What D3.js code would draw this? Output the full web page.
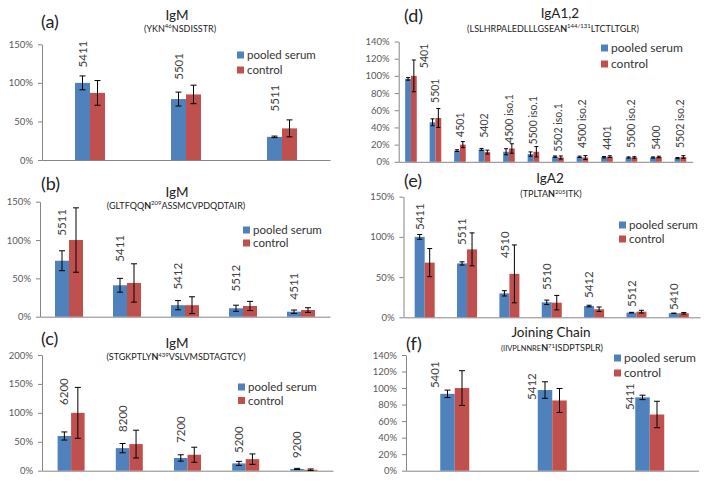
<!DOCTYPE html>
<html><head><meta charset="utf-8">
<script src="https://cdn.jsdelivr.net/npm/d3@7/dist/d3.min.js"></script>
<style>
body{margin:0;background:#fff;}
svg text{font-family:Lato,"Liberation Sans",sans-serif;}
</style></head>
<body><svg id="c" width="704" height="482"></svg>
<script>
// ---------------- DATA ----------------
const seriesNames = ["pooled serum", "control"];

// (a) IgM (YKN46NSDISSTR)
const catsA = ["5411", "5501", "5511"];
const pooledA = [100, 79, 30];
const pooledErrA = [9, 9, 1];
const controlA = [87, 85, 41];
const controlErrA = [16, 12, 11];
const ticksA = [0, 50, 100, 150];

// (b) IgM (GLTFQQN209ASSMCVPDQDTAIR)
const catsB = ["5511", "5411", "5412", "5512", "4511"];
const pooledB = [73, 41, 15, 11, 6.5];
const pooledErrB = [13, 9, 6, 4, 2.2];
const controlB = [100, 44, 15, 14, 8.7];
const controlErrB = [42, 25, 11, 6, 3];
const ticksB = [0, 50, 100, 150];

// (c) IgM (STGKPTLYN439VSLVMSDTAGTCY)
const catsC = ["6200", "8200", "7200", "5200", "9200"];
const pooledC = [60, 39, 22, 12.6, 3];
const pooledErrC = [7, 8, 5.5, 3.5, 1];
const controlC = [100, 46, 27.6, 20, 1.7];
const controlErrC = [44, 24, 13, 9, 1.3];
const ticksC = [0, 50, 100, 150, 200];

// (d) IgA1,2 (LSLHRPALEDLLLGSEAN144/131LTCTLTGLR)
const catsD = ["5401", "5501", "4501", "5402", "4500 iso.1", "5500 iso.1", "5502 iso.1", "4500 iso.2", "4401", "5500 iso.2", "5400", "5502 iso.2"];
const pooledD = [96.5, 46, 13, 14.4, 11.7, 9, 6, 5.8, 5.3, 5, 5, 4.3];
const pooledErrD = [1.5, 4, 1, 1.2, 3.5, 2.5, 0.8, 0.8, 0.8, 0.7, 0.7, 0.7];
const controlD = [100, 51, 20, 11.3, 15.5, 11.7, 5, 5, 6, 5, 5.6, 5.6];
const controlErrD = [18.5, 11, 3.5, 2.3, 5.5, 6, 1.8, 2.2, 1, 0.9, 0.9, 1.5];
const ticksD = [0, 20, 40, 60, 80, 100, 120, 140];

// (e) IgA2 (TPLTAN205ITK)
const catsE = ["5411", "5511", "4510", "5510", "5412", "5512", "5410"];
const pooledE = [100, 67, 29.8, 18.6, 14, 5.8, 5];
const pooledErrE = [3, 2, 3.3, 2.8, 1, 0.4, 0.2];
const controlE = [68, 84.5, 54, 18.2, 10, 7, 5];
const controlErrE = [17.5, 20.5, 36, 9, 2.8, 1.7, 1];
const ticksE = [0, 50, 100, 150];

// (f) Joining Chain (IIVPLNNREN71ISDPTSPLR)
const catsF = ["5401", "5412", "5411"];
const pooledF = [93, 97.6, 88.7];
const pooledErrF = [4.5, 10, 2.7];
const controlF = [100, 85, 68];
const controlErrF = [21, 14.5, 16];
const ticksF = [0, 20, 40, 60, 80, 100, 120, 140];

// ---------------- LAYOUT ----------------
const colors = ["#4F81BD", "#C0504D"];
const panels = [
  {cats: catsA, vals: [pooledA, controlA], errs: [pooledErrA, controlErrA], ticks: ticksA, yMax: 150,
   x0: 42, x1: 330, yTop: 44.3, yBot: 160, barW: 15, capW: 6, lblFont: 11.5, lblRef: "blue", lblDx: 0,
   lblAt: [120, 104, 63], nudge: {},
   tag: {t: "(a)", x: 41, y: 28}, title: {t: "IgM", x: 177, y: 20},
   sub: {x: 180, y: 31.5, parts: [["(YKN", 0], ["46", 2], ["NSDISSTR)", 0]]},
   leg: {x: 237, y: 55, dy: 15, fs: 11.5}},
  {cats: catsB, vals: [pooledB, controlB], errs: [pooledErrB, controlErrB], ticks: ticksB, yMax: 150,
   x0: 40, x1: 330, yTop: 201.7, yBot: 316.7, barW: 14, capW: 6, lblFont: 11.5, lblRef: "blue", lblDx: 0,
   lblAt: [105.6, 71.8, 35.5, 32.9, 22.5], nudge: {},
   tag: {t: "(b)", x: 41, y: 190}, title: {t: "IgM", x: 177, y: 197},
   sub: {x: 176, y: 208.5, parts: [["(GLTFQQ", 0], ["N", 1], ["209", 2], ["ASSMCVPDQDTAIR)", 0]]},
   leg: {x: 243, y: 230, dy: 13, fs: 11.5}},
  {cats: catsC, vals: [pooledC, controlC], errs: [pooledErrC, controlErrC], ticks: ticksC, yMax: 200,
   x0: 42, x1: 333, yTop: 355, yBot: 470.7, barW: 13.5, capW: 6, lblFont: 11.5, lblRef: "blue", lblDx: 0,
   lblAt: [113.7, 67, 48, 30.6, 22], nudge: {},
   tag: {t: "(c)", x: 41, y: 345}, title: {t: "IgM", x: 177, y: 348},
   sub: {x: 176, y: 360, parts: [["(STGKPTLY", 0], ["N", 1], ["439", 2], ["VSLVMSDTAGTCY)", 0]]},
   leg: {x: 238, y: 387, dy: 13.5, fs: 11.5}},
  {cats: catsD, vals: [pooledD, controlD], errs: [pooledErrD, controlErrD], ticks: ticksD, yMax: 140,
   x0: 398.7, x1: 692.7, yTop: 41.5, yBot: 161.8, barW: 5.8, capW: 4, lblFont: 10.5, lblRef: "group", lblDx: 0,
   lblAt: [109, 68.5, 29, 28, 22, 20, 11.6, 16, 14, 16, 14, 16], nudge: {0: 13},
   tag: {t: "(d)", x: 404, y: 22}, title: {t: "IgA1,2", x: 560, y: 18},
   sub: {x: 553, y: 31.5, parts: [["(LSLHRPALEDLLLGSEA", 0], ["N", 1], ["144/131", 2], ["LTCTLTGLR)", 0]]},
   leg: {x: 601, y: 48, dy: 16, fs: 12}},
  {cats: catsE, vals: [pooledE, controlE], errs: [pooledErrE, controlErrE], ticks: ticksE, yMax: 150,
   x0: 403.5, x1: 700, yTop: 196.7, yBot: 317.3, barW: 10, capW: 5, lblFont: 11.5, lblRef: "blue", lblDx: 0,
   lblAt: [108.6, 90, 73.7, 34, 24, 12.8, 9], nudge: {},
   tag: {t: "(e)", x: 404, y: 187}, title: {t: "IgA2", x: 550, y: 183},
   sub: {x: 551, y: 197, parts: [["(TPLTA", 0], ["N", 1], ["205", 2], ["ITK)", 0]]},
   leg: {x: 619, y: 225, dy: 14, fs: 11.5}},
  {cats: catsF, vals: [pooledF, controlF], errs: [pooledErrF, controlErrF], ticks: ticksF, yMax: 140,
   x0: 406, x1: 698.5, yTop: 355, yBot: 470.7, barW: 14.5, capW: 6, lblFont: 11.5, lblRef: "blue", lblDx: -13,
   lblAt: [100, 85.6, 73.5], nudge: {},
   tag: {t: "(f)", x: 406, y: 350}, title: {t: "Joining Chain", x: 551, y: 337},
   sub: {x: 552, y: 351, parts: [["(IIVPLNNRE", 3], ["N", 1], ["71", 2], ["ISDPTSPLR)", 0]]},
   leg: {x: 614, y: 358, dy: 15, fs: 12}}
];

const svg = d3.select("#c");
svg.append("rect").attr("width", 704).attr("height", 482).attr("fill", "#fff");

panels.forEach(p => {
  const g = svg.append("g");
  const x = d3.scaleBand().domain(p.cats).range([p.x0, p.x1]).padding(0);
  const y = d3.scaleLinear().domain([0, p.yMax]).range([p.yBot, p.yTop]);

  // y axis
  const ya = g.append("g").attr("transform", `translate(${p.x0},0)`)
    .call(d3.axisLeft(y).tickValues(p.ticks).tickFormat(d => d + "%").tickSize(4).tickSizeOuter(0).tickPadding(5));
  ya.select(".domain").attr("stroke", "#868686");
  ya.selectAll(".tick line").attr("stroke", "#868686");
  ya.selectAll(".tick text").attr("fill", "#595959").style("font-size", "9.5px").style("font-family", "Lato");

  // x axis
  const xa = g.append("g").attr("transform", `translate(0,${p.yBot})`)
    .call(d3.axisBottom(x).tickSize(0).tickSizeOuter(0).tickFormat(""));
  xa.select(".domain").attr("stroke", "#868686");

  // bars + error bars
  [0, 1].forEach(s => {
    const xs = c => x(c) + x.bandwidth() / 2 + (s === 0 ? -p.barW : 0);
    g.append("g").selectAll("rect").data(p.cats).join("rect")
      .attr("x", xs).attr("width", p.barW)
      .attr("y", (c, i) => y(p.vals[s][i]))
      .attr("height", (c, i) => p.yBot - y(p.vals[s][i]))
      .attr("fill", colors[s]);
    const eg = g.append("g").attr("stroke", "#000").attr("stroke-width", 1);
    p.cats.forEach((c, i) => {
      const cx = xs(c) + p.barW / 2;
      const v = p.vals[s][i], e = p.errs[s][i];
      const yh = y(v + e), yl = y(Math.max(0, v - e));
      eg.append("line").attr("x1", cx).attr("x2", cx).attr("y1", yh).attr("y2", yl);
      eg.append("line").attr("x1", cx - p.capW / 2).attr("x2", cx + p.capW / 2).attr("y1", yh).attr("y2", yh);
      eg.append("line").attr("x1", cx - p.capW / 2).attr("x2", cx + p.capW / 2).attr("y1", yl).attr("y2", yl);
    });
  });

  // category labels (rotated)
  p.cats.forEach((c, i) => {
    const lx = x(c) + x.bandwidth() / 2 + (p.lblRef === "blue" ? -p.barW / 2 : 0) + p.lblDx + (p.nudge[i] || 0);
    const ly = y(p.lblAt[i]);
    g.append("text").attr("transform", `translate(${lx},${ly}) rotate(-90)`)
      .attr("dy", "0.36em").attr("text-anchor", "start")
      .attr("fill", "#404040").style("font-size", p.lblFont + "px").text(c);
  });

  // panel tag, title, subtitle
  g.append("text").attr("x", p.tag.x).attr("y", p.tag.y).style("font-size", "18px").attr("fill", "#222").text(p.tag.t);
  g.append("text").attr("x", p.title.x).attr("y", p.title.y).attr("text-anchor", "middle")
    .style("font-size", "13.5px").attr("fill", "#222").text(p.title.t);
  const st = g.append("text").attr("x", p.sub.x).attr("y", p.sub.y).attr("text-anchor", "middle")
    .style("font-size", "9px").attr("fill", "#222");
  let raised = false;
  p.sub.parts.forEach(([t, k]) => {
    const ts = st.append("tspan").text(t);
    if (k === 1) ts.style("font-weight", "bold");
    if (k === 3) ts.style("font-size", "7.5px");
    if (k === 2) { ts.style("font-size", "6px").attr("dy", -3.5); raised = true; }
    else if (raised) { ts.attr("dy", 3.5); raised = false; }
  });

  // legend
  seriesNames.forEach((n, s) => {
    const ly = p.leg.y + s * p.leg.dy;
    g.append("rect").attr("x", p.leg.x).attr("y", ly - 3.5).attr("width", 7).attr("height", 7).attr("fill", colors[s]);
    g.append("text").attr("x", p.leg.x + 10).attr("y", ly).attr("dy", "0.35em")
      .style("font-size", p.leg.fs + "px").attr("fill", "#333").text(n);
  });
});
</script>
</body></html>
